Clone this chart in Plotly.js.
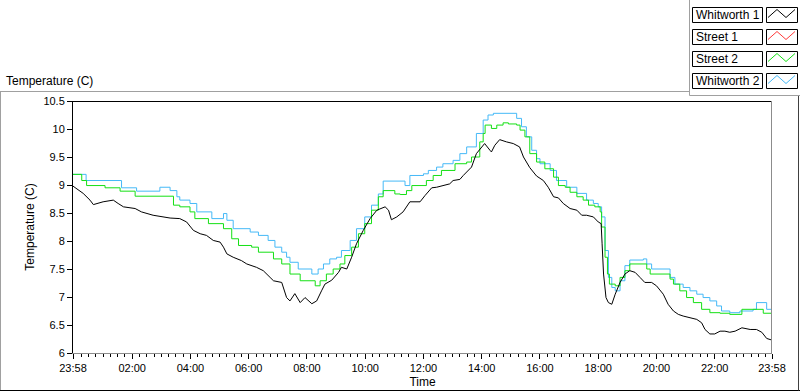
<!DOCTYPE html>
<html>
<head>
<meta charset="utf-8">
<script src="https://cdn.plot.ly/plotly-3.0.1.min.js"></script>
<style>
  html, body { margin: 0; padding: 0; background: #fff; }
  #chart { width: 800px; height: 392px; }
</style>
</head>
<body>
<div id="chart"></div>
<script>
// ---- data (minutes after 23:58 start, temperature in C) ----
const seriesNames = ["Whitworth 1", "Street 1", "Street 2", "Whitworth 2"];
const seriesColors = ["#000000", "#ff3a3a", "#14e014", "#45b9f7"];

const w1Min = [0,21,35,42,62,83,93,104,128,141,165,179,200,220,234,248,262,275,289,303,310,317,330,347,358,378,392,406,413,430,440,447,457,468,478,492,502,512,519,533,547,553,564,574,584,598,612,626,643,650,656,667,680,694,715,725,739,749,766,776,783,797,804,821,831,842,848,859,862,869,879,893,907,920,928,941,955,969,979,990,1000,1010,1024,1038,1048,1058,1072,1082,1088,1090,1093,1098,1103,1110,1117,1127,1137,1147,1158,1168,1178,1192,1202,1216,1226,1237,1247,1257,1271,1285,1295,1302,1312,1322,1333,1343,1353,1364,1378,1395,1408,1419,1429,1440];
const w1Temp = [8.98,8.85,8.73,8.65,8.70,8.73,8.67,8.61,8.58,8.52,8.46,8.44,8.41,8.40,8.34,8.19,8.13,8.10,8.01,7.98,7.89,7.77,7.71,7.65,7.59,7.53,7.47,7.35,7.29,7.26,6.99,6.93,7.06,6.90,6.99,6.88,6.93,7.11,7.23,7.30,7.44,7.53,7.50,7.71,7.95,8.19,8.40,8.55,8.61,8.55,8.38,8.43,8.52,8.70,8.70,8.81,8.95,8.96,8.99,9.02,9.08,9.10,9.17,9.32,9.56,9.69,9.74,9.62,9.59,9.71,9.81,9.77,9.74,9.68,9.50,9.31,9.16,9.08,8.96,8.79,8.77,8.67,8.58,8.55,8.46,8.46,8.43,8.34,8.31,7.95,7.41,6.99,6.90,6.87,7.05,7.26,7.41,7.47,7.44,7.35,7.26,7.26,7.20,7.05,6.87,6.75,6.69,6.66,6.63,6.60,6.54,6.42,6.34,6.34,6.39,6.39,6.37,6.39,6.45,6.42,6.42,6.37,6.26,6.23];

const s1Min = [];
const s1Temp = [];

const s2Min = [0,18,28,66,97,128,207,220,241,251,279,310,327,341,368,382,413,430,447,468,499,509,522,536,550,560,574,588,601,615,629,639,663,674,687,698,728,742,759,787,811,821,838,845,849,862,873,886,897,914,921,931,941,955,972,990,1000,1014,1024,1038,1051,1062,1075,1086,1089,1096,1101,1105,1117,1127,1137,1147,1182,1189,1230,1237,1250,1264,1278,1295,1312,1333,1353,1378,1422,1440];
const s2Temp = [9.19,9.08,8.99,8.95,8.89,8.80,8.64,8.61,8.52,8.40,8.31,8.22,8.04,7.92,7.89,7.80,7.68,7.59,7.41,7.29,7.20,7.29,7.41,7.50,7.59,7.74,7.89,8.13,8.31,8.55,8.79,8.90,8.84,8.83,8.90,8.99,9.08,9.17,9.26,9.38,9.41,9.50,9.77,9.92,10.07,10.01,10.07,10.11,10.09,10.07,9.98,9.86,9.56,9.41,9.29,9.14,8.99,8.96,8.87,8.79,8.73,8.64,8.61,8.52,8.25,7.71,7.41,7.23,7.20,7.35,7.47,7.59,7.50,7.41,7.32,7.23,7.11,6.99,6.90,6.78,6.72,6.71,6.69,6.78,6.71,6.66];

const w2Min = [0,27,100,131,179,200,214,220,241,255,286,310,317,330,365,382,402,416,430,440,447,464,492,505,516,529,543,553,571,584,601,615,629,639,684,694,722,732,749,762,783,797,811,831,845,855,866,914,924,934,945,955,962,983,996,1017,1038,1058,1072,1082,1089,1096,1103,1110,1117,1127,1137,1147,1175,1182,1192,1230,1240,1257,1271,1285,1298,1312,1326,1336,1353,1374,1401,1408,1429,1440];
const w2Temp = [9.19,9.08,8.95,8.89,8.96,8.90,8.79,8.73,8.67,8.52,8.40,8.49,8.37,8.22,8.16,8.10,8.01,7.89,7.80,7.71,7.62,7.50,7.41,7.50,7.59,7.68,7.71,7.83,8.01,8.22,8.43,8.64,8.84,9.07,8.99,9.17,9.20,9.26,9.32,9.38,9.44,9.56,9.68,9.92,10.16,10.25,10.28,10.19,10.04,9.86,9.62,9.47,9.38,9.26,9.08,8.96,8.85,8.73,8.67,8.61,8.43,7.83,7.35,7.17,7.11,7.29,7.56,7.66,7.68,7.59,7.50,7.35,7.23,7.17,7.11,7.05,6.99,6.93,6.84,6.75,6.72,6.75,6.78,6.90,6.78,6.78];

const xTickVals = ["2000-01-01 23:58","2000-01-02 02:00","2000-01-02 04:00","2000-01-02 06:00","2000-01-02 08:00","2000-01-02 10:00","2000-01-02 12:00","2000-01-02 14:00","2000-01-02 16:00","2000-01-02 18:00","2000-01-02 20:00","2000-01-02 22:00","2000-01-02 23:58"];
const xTickLabels = ["23:58","02:00","04:00","06:00","08:00","10:00","12:00","14:00","16:00","18:00","20:00","22:00","23:58"];
const yTickVals = [6,6.5,7,7.5,8,8.5,9,9.5,10,10.5];

// ---- helpers ----
function pad(n){ return (n < 10 ? "0" : "") + n; }
function minToDate(m){
  const tot = 23*60 + 58 + m;
  const day = 1 + Math.floor(tot / 1440);
  const r = tot - (day - 1) * 1440;
  return "2000-01-" + pad(day) + " " + pad(Math.floor(r / 60)) + ":" + pad(r % 60);
}

const mins = [w1Min, s1Min, s2Min, w2Min];
const temps = [w1Temp, s1Temp, s2Temp, w2Temp];
const shapesLine = ["linear", "hv", "hv", "hv"];

const traces = seriesNames.map((n, i) => ({
  type: "scatter", mode: "lines", name: n,
  x: mins[i].map(minToDate), y: temps[i],
  line: { color: seriesColors[i], width: 1, shape: shapesLine[i] },
  hoverinfo: "skip", showlegend: false
}));
// draw blue then green then black on top
const ordered = [traces[3], traces[1], traces[2], traces[0]];

// plot area in pixels
const L = 73, R = 772, T = 101, B = 353;
const P = px => (px - L) / (R - L);
const Q = py => (B - py) / (B - T);

const shapes = [];
function line(x0, y0, x1, y1, color){
  shapes.push({ type: "line", xref: "paper", yref: "paper", x0: P(x0), y0: Q(y0), x1: P(x1), y1: Q(y1),
    line: { color: color, width: 1 }, layer: "above" });
}
// plot frame (top black, right gray)
line(L, T + 0.5, R, T + 0.5, "#000000");
line(R - 0.5, T, R - 0.5, B, "#8c8c8c");
// outer frame
line(0, 91.5, 689.5, 91.5, "#a0a0a0");
line(0.5, 91.5, 0.5, 390.5, "#a0a0a0");
line(0, 390.5, 800, 390.5, "#000000");
line(798.5, 95.5, 798.5, 390.5, "#404040");
line(689.5, 0, 689.5, 95.5, "#a0a0a0");
line(689.5, 95.5, 800, 95.5, "#a0a0a0");

const annotations = [];
// legend boxes
seriesNames.forEach((n, i) => {
  const top = 7.5 + 22 * i, bot = top + 15;
  shapes.push({ type: "rect", xref: "paper", yref: "paper", x0: P(692.5), x1: P(762.5), y0: Q(bot), y1: Q(top),
    line: { color: "#000", width: 1 }, fillcolor: "#ffffff", layer: "above" });
  shapes.push({ type: "rect", xref: "paper", yref: "paper", x0: P(766.5), x1: P(797.5), y0: Q(bot), y1: Q(top),
    line: { color: "#000", width: 1 }, fillcolor: "#ffffff", layer: "above" });
  const zz = [[768, bot - 5], [777, top + 2], [786, bot - 5], [795, top + 2]];
  shapes.push({ type: "path", xref: "paper", yref: "paper",
    path: "M" + zz.map(p => P(p[0]) + "," + Q(p[1])).join(" L"),
    line: { color: seriesColors[i], width: 1 }, layer: "above" });
  annotations.push({ xref: "paper", yref: "paper", x: P(694), y: Q((top + bot) / 2), xanchor: "left", yanchor: "middle",
    text: n, showarrow: false, font: { family: "Liberation Sans, Arial, sans-serif", size: 12, color: "#000" } });
});
annotations.push({ xref: "paper", yref: "paper", x: P(4), y: Q(81), xanchor: "left", yanchor: "middle",
  text: "Temperature (C)", showarrow: false, font: { family: "Liberation Sans, Arial, sans-serif", size: 12, color: "#000" } });

const layout = {
  width: 800, height: 392,
  margin: { l: L, r: 800 - R, t: T, b: 392 - B, pad: 0 },
  paper_bgcolor: "#ffffff", plot_bgcolor: "#ffffff",
  font: { family: "Liberation Sans, Arial, sans-serif", size: 11, color: "#000" },
  showlegend: false,
  xaxis: {
    type: "date", range: [xTickVals[0], xTickVals[xTickVals.length - 1]],
    tickmode: "array", tickvals: xTickVals, ticktext: xTickLabels,
    ticks: "outside", ticklen: 5, tickwidth: 1, tickcolor: "#000",
    minor: { tickmode: "linear", tick0: "2000-01-02 00:00", dtick: 900000, ticks: "outside", ticklen: 3, tickcolor: "#000", tickwidth: 1, showgrid: false },
    showgrid: false, zeroline: false, showline: true, linecolor: "#8c8c8c", linewidth: 1,
    tickfont: { size: 11 },
    title: { text: "Time", font: { size: 12 }, standoff: 4 },
    automargin: false
  },
  yaxis: {
    range: [6, 10.5], tickmode: "array", tickvals: yTickVals,
    ticks: "outside", ticklen: 5, tickwidth: 1, tickcolor: "#000",
    showgrid: false, zeroline: false, showline: true, linecolor: "#000", linewidth: 1,
    tickfont: { size: 11 },
    title: { text: "Temperature (C)", font: { size: 12 }, standoff: 6 },
    automargin: false
  },
  shapes: shapes,
  annotations: annotations
};

Plotly.newPlot("chart", ordered, layout, { staticPlot: true, displayModeBar: false });
</script>
</body>
</html>
